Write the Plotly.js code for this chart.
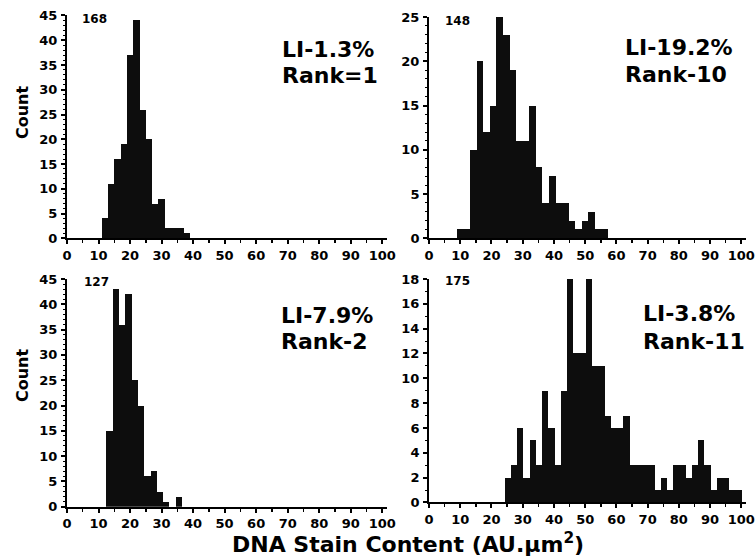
<!DOCTYPE html>
<html>
<head>
<meta charset="utf-8">
<script src="https://cdn.plot.ly/plotly-3.0.1.min.js"></script>
<style>html,body{margin:0;padding:0;background:#fff;}#chart{width:756px;height:557px;}</style>
</head>
<body>
<div id="chart"></div>
<script>
// ---- Data (DNA stain content histograms) ----
// Panel A (top-left)
const aBinWidth = 2;
const aBins   = [11, 13, 15, 17, 19, 21, 23, 25, 27, 29, 31, 33, 35, 37];
const aCounts = [4, 11, 16, 19, 37, 44, 26, 20, 7, 8, 2, 2, 2, 1];
const aId = "168", aLI = "LI-1.3%", aRank = "Rank=1";

// Panel B (top-right)
const bBinWidth = 2.1;
const bBins   = [9, 11.1, 13.2, 15.3, 17.4, 19.5, 21.6, 23.7, 25.8, 27.9, 30, 32.1, 34.2, 36.3, 38.4, 40.5, 42.6, 44.7, 46.8, 48.9, 51, 53.1, 55.2];
const bCounts = [1, 1, 10, 20, 12, 15, 25, 23, 19, 11, 11, 15, 8, 4, 7, 4, 4, 2, 1, 2, 3, 1, 1];
const bId = "148", bLI = "LI-19.2%", bRank = "Rank-10";

// Panel C (bottom-left)
const cBinWidth = 2;
const cBins   = [12.5, 14.5, 16.5, 18.5, 20.5, 22.5, 24.5, 26.5, 28.5, 30.5, 32.5, 34.5];
const cCounts = [15, 43, 36, 42, 25, 20, 6, 7, 3, 1, 0, 2];
const cId = "127", cLI = "LI-7.9%", cRank = "Rank-2";

// Panel D (bottom-right)
const dBinWidth = 2;
const dBins   = [24.2, 26.2, 28.2, 30.2, 32.2, 34.2, 36.2, 38.2, 40.2, 42.2, 44.2, 46.2, 48.2, 50.2, 52.2, 54.2, 56.2, 58.2, 60.2, 62.2, 64.2, 66.2, 68.2, 70.2, 72.2, 74.2, 76.2, 78.2, 80.2, 82.2, 84.2, 86.2, 88.2, 90.2, 92.2, 94.2, 96.2, 98.2];
const dCounts = [2, 3, 6, 2, 5, 3, 9, 6, 3, 9, 18, 12, 12, 18, 11, 11, 7, 6, 6, 7, 3, 3, 3, 3, 1, 2, 1, 3, 3, 2, 3, 5, 3, 1, 2, 2, 1, 1];
const dId = "175", dLI = "LI-3.8%", dRank = "Rank-11";

const xTickVals = [0, 10, 20, 30, 40, 50, 60, 70, 80, 90, 100];
const xTickText = ["0", "10", "20", "30", "40", "50", "60", "70", "80", "90", "100"];
const yLabel = "Count";
const xLabel = "DNA Stain Content (AU.µm<sup>2</sup>)";

// ---- Styling ----
const FONT = "DejaVu Sans";
const tickFont = {family: FONT, size: 13, color: "#000", weight: "bold"};
const barColor = "#0d0d0d";

function xAxis(domain, anchor) {
  return {
    domain: domain, anchor: anchor, range: [0, 101.5],
    showline: true, linecolor: "#000", linewidth: 2,
    ticks: "outside", ticklen: 4, tickwidth: 2, tickcolor: "#000",
    tickmode: "array", tickvals: xTickVals, ticktext: xTickText,
    minor: {tickvals: [5, 15, 25, 35, 45, 55, 65, 75, 85, 95], ticks: "outside", ticklen: 3, tickwidth: 1.5, tickcolor: "#000", showgrid: false},
    showgrid: false, zeroline: false, tickfont: tickFont, fixedrange: true
  };
}
function yAxis(domain, anchor, top, dtick) {
  return {
    domain: domain, anchor: anchor, range: [0, top],
    showline: true, linecolor: "#000", linewidth: 2,
    ticks: "outside", ticklen: 4, tickwidth: 2, tickcolor: "#000",
    tickmode: "linear", tick0: 0, dtick: dtick,
    minor: {dtick: 1, ticks: "outside", ticklen: 2, tickwidth: 1, tickcolor: "#000", showgrid: false},
    showgrid: false, zeroline: false, tickfont: tickFont, fixedrange: true, ticklabelstandoff: 1
  };
}

function barTrace(bins, counts, w, xa, ya) {
  return {type: "bar", x: bins, y: counts, width: w, offset: 0, xaxis: xa, yaxis: ya,
          marker: {color: barColor, line: {width: 0}}, hoverinfo: "x+y"};
}

const data = [
  barTrace(aBins, aCounts, aBinWidth, "x", "y"),
  barTrace(bBins, bCounts, bBinWidth, "x2", "y2"),
  barTrace(cBins, cCounts, cBinWidth, "x3", "y3"),
  barTrace(dBins, dCounts, dBinWidth, "x4", "y4")
];

const leftDom = [0.0886, 0.5119], rightDom = [0.5675, 0.9868];

function ann(text, xref, yref, x, y, size, anchor) {
  return {text: text, xref: xref, yref: yref, x: x, y: y, showarrow: false,
          xanchor: anchor || "left", yanchor: "middle",
          font: {family: FONT, size: size, color: "#000", weight: "bold"}};
}

const annotations = [
  ann(aId, "x", "y", 4, 44.2, 12), ann(aLI, "x", "y", 67.5, 38.1, 22), ann(aRank, "x", "y", 67.5, 32.8, 22),
  ann(bId, "x2", "y2", 4.5, 24.5, 12), ann(bLI, "x2", "y2", 62, 21.6, 22), ann(bRank, "x2", "y2", 62, 18.5, 22),
  ann(cId, "x3", "y3", 4.7, 44.4, 12), ann(cLI, "x3", "y3", 67.2, 37.7, 22), ann(cRank, "x3", "y3", 67.2, 32.7, 22),
  ann(dId, "x4", "y4", 4.5, 17.8, 12), ann(dLI, "x4", "y4", 67.8, 15.25, 22), ann(dRank, "x4", "y4", 67.8, 13.0, 22),
  Object.assign(ann(yLabel, "paper", "paper", 22 / 756, 1 - 112 / 557, 16, "center"), {textangle: -90}),
  Object.assign(ann(yLabel, "paper", "paper", 22 / 756, 1 - 375 / 557, 16, "center"), {textangle: -90}),
  ann(xLabel, "paper", "paper", 408 / 756, 1 - 543 / 557, 22, "center")
];

const layout = {
  width: 756, height: 557,
  margin: {l: 0, r: 0, t: 0, b: 0, pad: 0},
  paper_bgcolor: "#fff", plot_bgcolor: "#fff",
  showlegend: false, bargap: 0,
  font: {family: FONT, color: "#000"},
  xaxis: xAxis(leftDom, "y"),
  yaxis: yAxis([0.5722, 0.9722], "x", 45, 5),
  xaxis2: xAxis(rightDom, "y2"),
  yaxis2: yAxis([0.5722, 0.9695], "x2", 25, 5),
  xaxis3: xAxis(leftDom, "y3"),
  yaxis3: yAxis([0.0903, 0.4991], "x3", 45, 5),
  xaxis4: xAxis(rightDom, "y4"),
  yaxis4: yAxis([0.0979, 0.4991], "x4", 18, 2),
  annotations: annotations
};

Plotly.newPlot("chart", data, layout, {displayModeBar: false, staticPlot: true});
</script>
</body>
</html>
